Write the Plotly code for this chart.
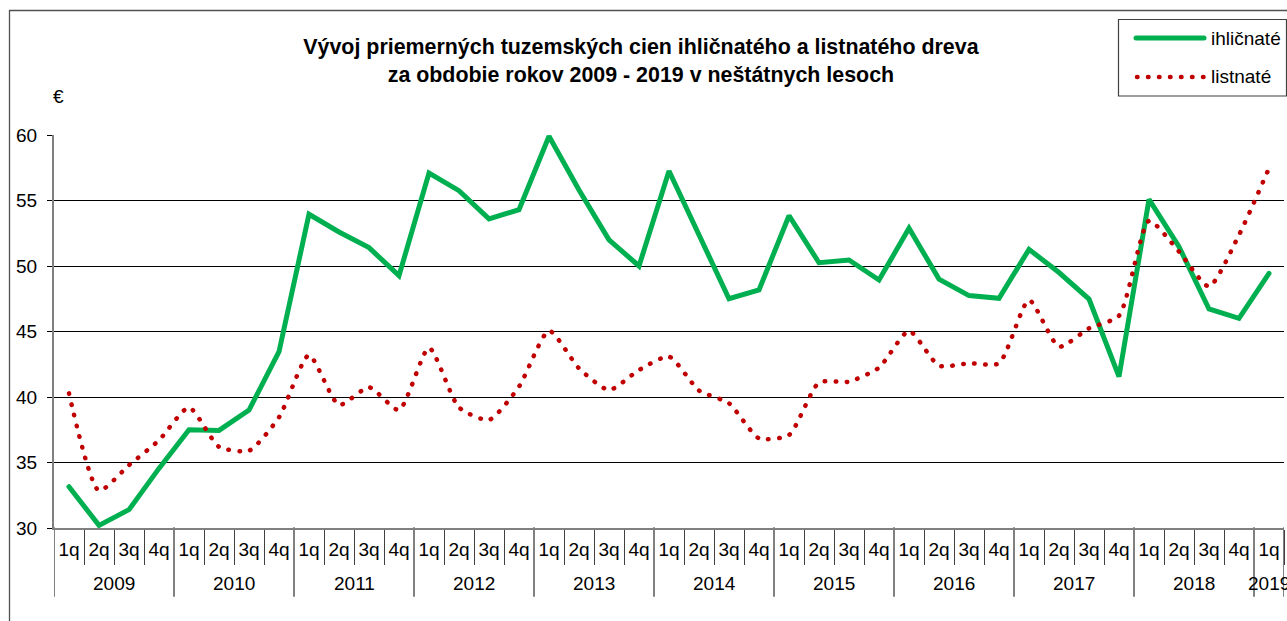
import plotly.graph_objects as go

years = ["2009"] * 4 + ["2010"] * 4 + ["2011"] * 4 + ["2012"] * 4 + ["2013"] * 4 + \
        ["2014"] * 4 + ["2015"] * 4 + ["2016"] * 4 + ["2017"] * 4 + ["2018"] * 4 + ["2019"]
quarters = ["1q", "2q", "3q", "4q"] * 10 + ["1q"]

ihlicnate = [33.15, 30.2, 31.4, 34.55,
             37.5, 37.45, 39.0, 43.46,
             53.95, 52.6, 51.4, 49.26,
             57.1, 55.75, 53.6, 54.3,
             59.9, 55.8, 52.0, 50.0,
             57.25, 52.4, 47.5, 48.17,
             53.84, 50.25, 50.46, 48.93,
             52.88, 49.0, 47.74, 47.53,
             51.27, 49.5, 47.48, 41.55,
             55.09, 51.47, 46.72, 46.0,
             49.44]

listnate = [40.28, 32.85, 34.8, 36.7,
            39.2, 36.2, 35.9, 38.45,
            43.2, 39.39, 40.74, 39.0,
            43.76, 39.2, 38.25, 40.79,
            45.06, 42.19, 40.53, 42.06,
            43.08, 40.5, 39.52, 36.85,
            37.1, 41.1, 41.17, 42.24,
            45.04, 42.39, 42.57, 42.57,
            47.4, 43.84, 45.24, 46.2,
            53.44, 51.1, 48.43, 52.37,
            57.46]

series_names = ["ihličnaté", "listnaté"]
title_text = "<b>Vývoj priemerných tuzemských cien ihličnatého a listnatého dreva<br>za obdobie rokov 2009 - 2019 v neštátnych lesoch</b>"

GREEN = "#00B050"
RED = "#C00000"
FONT = "Liberation Sans, Arial, sans-serif"
FS = 19

W, H = 1287, 621
L, R_EDGE, T, B = 54, 1284, 135, 528


def px(xp):
    return (xp - L) / (R_EDGE - L)


def py(yp):
    return (B - yp) / (B - T)


# unique category keys built from year + quarter
cats = [f"{y} {q}" for y, q in zip(years, quarters)]

fig = go.Figure()
fig.add_trace(go.Scatter(
    x=cats, y=ihlicnate, name=series_names[0], mode="lines",
    line=dict(color=GREEN, width=5), showlegend=False))
fig.add_trace(go.Scatter(
    x=cats, y=listnate, name=series_names[1], mode="lines",
    line=dict(color=RED, width=4.5, dash="0.5px,10.5px", shape="spline", smoothing=0.6),
    showlegend=False))

shapes = [
    # chart border
    dict(type="rect", xref="paper", yref="paper",
         x0=px(9.5), x1=px(1292), y0=py(630), y1=py(10.5),
         line=dict(color="#505050", width=1.3), fillcolor="rgba(0,0,0,0)", layer="below"),
    # legend box
    dict(type="rect", xref="paper", yref="paper",
         x0=px(1118.5), x1=px(1286.5), y0=py(96), y1=py(19.5),
         line=dict(color="#404040", width=1.2), fillcolor="white"),
    dict(type="line", xref="paper", yref="paper",
         x0=px(1136), x1=px(1204), y0=py(38), y1=py(38),
         line=dict(color=GREEN, width=5)),
    dict(type="line", xref="paper", yref="paper",
         x0=px(1137), x1=px(1204), y0=py(77), y1=py(77),
         line=dict(color=RED, width=4.5, dash="0.5px,10.5px")),
]

annotations = [
    dict(text=series_names[0], xref="paper", yref="paper", x=px(1209), y=py(38),
         xanchor="left", yanchor="middle", showarrow=False,
         font=dict(family=FONT, size=FS, color="black")),
    dict(text=series_names[1], xref="paper", yref="paper", x=px(1209), y=py(77),
         xanchor="left", yanchor="middle", showarrow=False,
         font=dict(family=FONT, size=FS, color="black")),
    dict(text="€", xref="paper", yref="paper", x=px(51), y=py(97),
         xanchor="left", yanchor="middle", showarrow=False,
         font=dict(family=FONT, size=FS, color="black")),
]

# year group labels and dividers
unique_years = []
for y in years:
    if y not in unique_years:
        unique_years.append(y)
for yr in unique_years:
    idx = [i for i, y in enumerate(years) if y == yr]
    annotations.append(dict(
        text=yr, xref="x", yref="paper", x=(idx[0] + idx[-1]) / 2, y=py(583),
        xanchor="center", yanchor="middle", showarrow=False,
        font=dict(family=FONT, size=FS, color="black")))
    shapes.append(dict(type="line", xref="x", yref="paper",
                       x0=idx[0] - 0.5, x1=idx[0] - 0.5, y0=0, y1=py(596),
                       line=dict(color="#808080", width=2)))
shapes.append(dict(type="line", xref="x", yref="paper",
                   x0=len(years) - 0.5, x1=len(years) - 0.5, y0=0, y1=py(596),
                   line=dict(color="#808080", width=2)))

fig.update_layout(
    width=W, height=H,
    margin=dict(l=L, r=W - R_EDGE, t=T, b=H - B, autoexpand=False),
    paper_bgcolor="white", plot_bgcolor="white",
    font=dict(family=FONT, size=FS, color="black"),
    title=dict(text=title_text, x=0.498, xanchor="center", y=1 - 54 / H, yanchor="top",
               yref="container", font=dict(family=FONT, size=21.4, color="black")),
    shapes=shapes, annotations=annotations,
    showlegend=False,
)

fig.update_yaxes(
    range=[30, 60], dtick=5, tick0=30,
    showgrid=True, gridcolor="black", gridwidth=1,
    showline=True, linecolor="#808080", linewidth=2,
    ticks="outside", ticklen=5, tickcolor="black",
    ticklabelstandoff=6,
    tickfont=dict(family=FONT, size=FS, color="black"),
    zeroline=False,
)
fig.update_xaxes(
    type="category", range=[-0.5, len(cats) - 0.5],
    tickmode="array", tickvals=cats, ticktext=quarters, tickangle=0,
    showline=True, linecolor="#808080", linewidth=2,
    ticks="outside", ticklen=35, tickcolor="#404040", tickwidth=1.3, tickson="boundaries",
    ticklabelstandoff=3,
    tickfont=dict(family=FONT, size=FS, color="black"),
    showgrid=False,
)

post = """
var s = document.createElement('style');
s.textContent = 'html,body{margin:0;padding:0;overflow:hidden;} path.js-line, .shapelayer path{stroke-linecap:round;}';
document.head.appendChild(s);
"""

fig.write_html("out.html", post_script=post, config={"displayModeBar": False})
